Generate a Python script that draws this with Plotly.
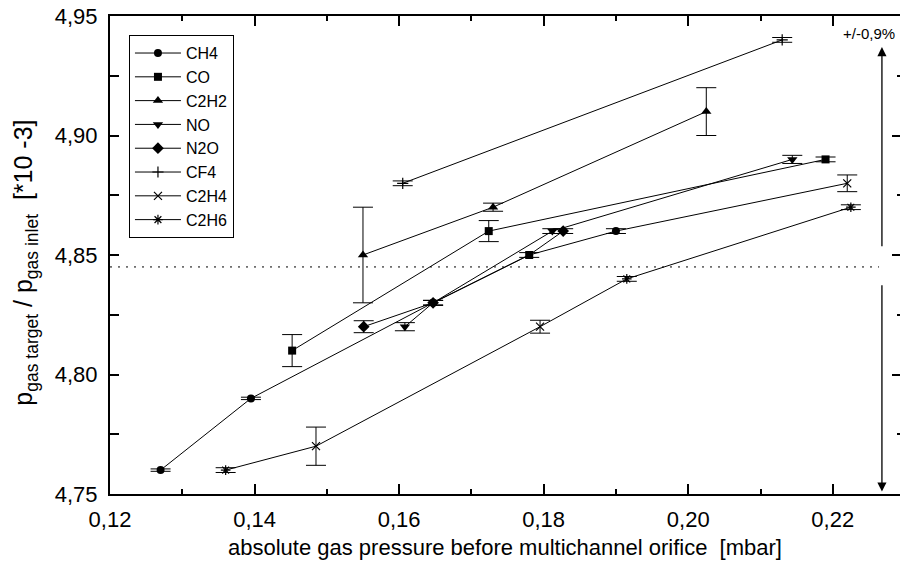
import plotly.graph_objects as go

# ---------------- data ----------------
gases = ["CH4", "CO", "C2H2", "NO", "N2O", "CF4", "C2H4", "C2H6"]
symbols = ["circle", "square", "triangle-up", "triangle-down", "diamond",
           "cross-thin-open", "x-thin-open", "asterisk-open"]

# measured points per gas (x = pressure [mbar], y = ratio, e = y error)
ch4_x = [0.127, 0.1395, 0.1647, 0.190]
ch4_y = [4.76, 4.79, 4.83, 4.86]
ch4_e = [0.0005, 0.0005, 0.001, 0.001]

co_x = [0.1452, 0.1724, 0.178, 0.219]
co_y = [4.81, 4.86, 4.85, 4.89]
co_e = [0.0067, 0.0044, 0.001, 0.001]

c2h2_x = [0.155, 0.173, 0.2025]
c2h2_y = [4.85, 4.87, 4.91]
c2h2_e = [0.02, 0.0017, 0.01]

no_x = [0.1608, 0.1647, 0.1812, 0.2144]
no_y = [4.82, 4.83, 4.86, 4.89]
no_e = [0.0017, 0.001, 0.001, 0.0017]

n2o_x = [0.1551, 0.1647, 0.1827]
n2o_y = [4.82, 4.83, 4.86]
n2o_e = [0.0025, 0.001, 0.001]

cf4_x = [0.1605, 0.213]
cf4_y = [4.88, 4.94]
cf4_e = [0.001, 0.001]

c2h4_x = [0.1485, 0.1795, 0.222]
c2h4_y = [4.77, 4.82, 4.88]
c2h4_e = [0.008, 0.0027, 0.0035]

c2h6_x = [0.136, 0.1915, 0.2225]
c2h6_y = [4.76, 4.84, 4.87]
c2h6_e = [0.001, 0.001, 0.001]

# connecting lines as drawn in the reference
path_cf4_x = [0.1605, 0.213]
path_cf4_y = [4.88, 4.94]
path_c2h2_x = [0.155, 0.173, 0.2025]
path_c2h2_y = [4.85, 4.87, 4.91]
path_co_x = [0.1452, 0.1724, 0.219]
path_co_y = [4.81, 4.86, 4.89]
path_low_x = [0.136, 0.1485, 0.1795, 0.1915, 0.2225]
path_low_y = [4.76, 4.77, 4.82, 4.84, 4.87]
path_ch4_x = [0.127, 0.1395, 0.1647, 0.178, 0.190, 0.222]
path_ch4_y = [4.76, 4.79, 4.83, 4.85, 4.86, 4.88]
path_no_x = [0.1608, 0.1647, 0.1812, 0.2144]
path_no_y = [4.82, 4.83, 4.86, 4.89]
path_n2o_x = [0.1551, 0.1647, 0.178, 0.1827]
path_n2o_y = [4.82, 4.83, 4.85, 4.86]

ref_level = 4.845
arrow_x = 0.2268
arrow_top = 4.937
arrow_bot = 4.751
arrow_gap_top = 4.853
arrow_gap_bot = 4.838
arrow_label = "+/-0,9%"

x_ticks = [0.12, 0.14, 0.16, 0.18, 0.20, 0.22]
y_ticks = [4.75, 4.80, 4.85, 4.90, 4.95]

x_title = "absolute gas pressure before multichannel orifice  [mbar]"
y_title = "p<sub>gas target</sub> / p<sub>gas inlet</sub>  [*10 -3]"

FONT = "Liberation Sans, Arial, sans-serif"

series = [(ch4_x, ch4_y, ch4_e), (co_x, co_y, co_e), (c2h2_x, c2h2_y, c2h2_e),
          (no_x, no_y, no_e), (n2o_x, n2o_y, n2o_e), (cf4_x, cf4_y, cf4_e),
          (c2h4_x, c2h4_y, c2h4_e), (c2h6_x, c2h6_y, c2h6_e)]
paths = [(path_cf4_x, path_cf4_y), (path_c2h2_x, path_c2h2_y), (path_co_x, path_co_y),
         (path_low_x, path_low_y), (path_ch4_x, path_ch4_y), (path_no_x, path_no_y),
         (path_n2o_x, path_n2o_y)]

fig = go.Figure()

# connecting lines
for px, py in paths:
    fig.add_trace(go.Scatter(x=px, y=py, mode="lines", showlegend=False,
                             hoverinfo="skip", line=dict(color="black", width=1)))


def gapped(vals):
    out = []
    for i, v in enumerate(vals):
        if i:
            out.append(None)
        out.append(v)
    return out


# markers with error bars (legend shows line + symbol)
for name, sym, (xs, ys, es) in zip(gases, symbols, series):
    thin = sym.endswith("open")
    size = {"circle": 8, "square": 8, "triangle-up": 9, "triangle-down": 9,
            "diamond": 9}.get(sym, 8)
    fig.add_trace(go.Scatter(
        x=gapped(xs), y=gapped(ys), name=name, mode="lines+markers",
        connectgaps=False,
        line=dict(color="black", width=1),
        marker=dict(symbol=sym, size=size, color="black",
                    line=dict(color="black", width=1.2 if thin else 0)),
        error_y=dict(type="data", array=gapped(es), visible=True, color="black",
                     thickness=1, width=10),
    ))

# dotted reference level and +/- arrows
fig.add_shape(type="line", x0=0.12, x1=arrow_x - 0.0004, y0=ref_level, y1=ref_level,
              line=dict(color="black", width=1, dash="2px,6px"))
for tip, start in ((arrow_top, arrow_gap_top), (arrow_bot, arrow_gap_bot)):
    fig.add_annotation(x=arrow_x, y=tip, ax=arrow_x, ay=start,
                       xref="x", yref="y", axref="x", ayref="y", text="",
                       showarrow=True, arrowhead=2, arrowsize=1.4, arrowwidth=1.3,
                       arrowcolor="black")
fig.add_annotation(x=0.9962, y=0.9644, xref="paper", yref="paper", text=arrow_label,
                   showarrow=False, xanchor="right", yanchor="middle",
                   font=dict(family=FONT, size=15, color="black"))

# axis titles as annotations for exact placement
fig.add_annotation(x=0.5, y=-0.111, xref="paper", yref="paper", text=x_title,
                   showarrow=False, xanchor="center", yanchor="middle",
                   font=dict(family=FONT, size=22, color="black"))
fig.add_annotation(x=-0.107, y=0.485, xref="paper", yref="paper", text=y_title,
                   showarrow=False, xanchor="center", yanchor="middle", textangle=-90,
                   font=dict(family=FONT, size=25, color="black"))

fig.update_layout(
    width=900, height=567,
    margin=dict(l=110, r=0, t=16, b=73),
    paper_bgcolor="white", plot_bgcolor="white",
    separators=", ",
    font=dict(family=FONT, color="black"),
    showlegend=True,
    legend=dict(x=0.024, y=0.96, xanchor="left", yanchor="top",
                bordercolor="black", borderwidth=1, bgcolor="white",
                font=dict(family=FONT, size=16, color="black"),
                itemwidth=46, tracegroupgap=0),
    xaxis=dict(range=[0.12, 0.2293], tickvals=x_ticks, tickformat=".2f",
               ticks="inside", ticklen=10, tickwidth=2, tickcolor="black",
               minor=dict(ticks="inside", ticklen=5, tickwidth=2, dtick=0.01,
                          tick0=0.12, tickcolor="black"),
               showline=True, linewidth=2, linecolor="black", mirror="ticks",
               showgrid=False, zeroline=False, ticklabelstandoff=5,
               tickfont=dict(family=FONT, size=22, color="black")),
    yaxis=dict(range=[4.75, 4.95], tickvals=y_ticks, tickformat=".2f",
               ticks="inside", ticklen=9, tickwidth=2, tickcolor="black",
               minor=dict(ticks="inside", ticklen=9, tickwidth=2, dtick=0.025,
                          tick0=4.75, tickcolor="black"),
               showline=True, linewidth=2, linecolor="black", mirror=False,
               showgrid=False, zeroline=False, ticklabelstandoff=6,
               tickfont=dict(family=FONT, size=22, color="black")),
    yaxis2=dict(range=[4.75, 4.95], overlaying="y", side="right", anchor="x",
                tickvals=y_ticks, showticklabels=False,
                ticks="inside", ticklen=8, tickwidth=2, tickcolor="black",
                minor=dict(ticks="inside", ticklen=3, tickwidth=2, dtick=0.025,
                           tick0=4.75, tickcolor="black"),
                showline=False, showgrid=False, zeroline=False),
)
# invisible trace attached to yaxis2 so the right-hand ticks are rendered
fig.add_trace(go.Scatter(x=[0.12], y=[4.75], yaxis="y2", mode="markers",
                         marker=dict(opacity=0), showlegend=False, hoverinfo="skip"))

fig.write_html("out.html")
